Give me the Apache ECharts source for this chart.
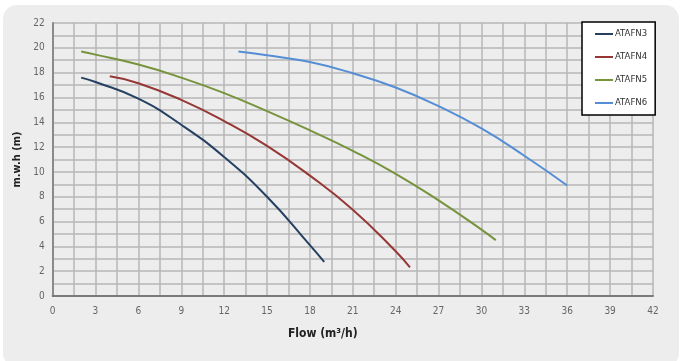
<!DOCTYPE html>
<html>
<head>
<meta charset="utf-8">
<script src="https://cdn.jsdelivr.net/npm/echarts@6/dist/echarts.min.js"></script>
<style>
html,body{margin:0;padding:0;background:#ffffff;}
#bg{position:absolute;left:3px;top:5px;width:676px;height:362px;border-radius:14px;background:#ededed;}
#chart{position:absolute;left:0;top:0;width:681px;height:361px;}
</style>
</head>
<body>
<div id="bg"></div>
<div id="chart"></div>
<script>
const seriesNames = ['ATAFN3', 'ATAFN4', 'ATAFN5', 'ATAFN6'];
const atafn3 = [[2,17.6],[3,17.25],[6,15.9],[9,13.8],[12,11.2],[15,8.0],[18,4.1],[19,2.75]];
const atafn4 = [[4,17.7],[6,17.15],[9,15.8],[12,14.1],[15,12.1],[18,9.7],[21,6.95],[24,3.6],[25,2.3]];
const atafn5 = [[2,19.7],[3,19.45],[6,18.65],[9,17.6],[12,16.35],[15,14.9],[18,13.35],[21,11.7],[24,9.85],[27,7.7],[30,5.35],[31,4.5]];
const atafn6 = [[13,19.7],[15,19.4],[18,18.85],[21,17.95],[24,16.8],[27,15.3],[30,13.5],[33,11.3],[36,8.9]];
const seriesData = [atafn3, atafn4, atafn5, atafn6];
const colors = ['#254061', '#953735', '#77933c', '#558ed5'];

const chart = echarts.init(document.getElementById('chart'));
const fontFam = "'DejaVu Sans Condensed', 'Roboto', sans-serif";
chart.setOption({
  animation: false,
  textStyle: { fontFamily: fontFam },
  grid: { left: 52.6, right: 28, top: 23, bottom: 65, containLabel: false },
  legend: {
    orient: 'vertical',
    left: 582, top: 22,
    padding: [6, 8, 6, 13],
    itemGap: 11,
    icon: 'rect',
    itemWidth: 18, itemHeight: 2,
    backgroundColor: '#ffffff',
    borderColor: '#000000', borderWidth: 1.5,
    textStyle: { fontSize: 9.5, lineHeight: 12, color: '#333333', fontFamily: fontFam, padding: [0,0,0,-3] },
    data: seriesNames
  },
  xAxis: {
    type: 'value', min: 0, max: 42, interval: 3,
    name: 'Flow (m³/h)', nameLocation: 'middle', nameGap: 32,
    nameTextStyle: { fontSize: 12, color: '#222222', fontWeight: 'bold', fontFamily: fontFam, padding: [0, 60, 0, 0] },
    axisLine: { show: true, lineStyle: { color: '#7a7a7a', width: 2 } },
    axisTick: { show: false },
    axisLabel: { fontSize: 10, color: '#666666', margin: 10 },
    splitLine: { show: true, lineStyle: { color: '#b6b6b6', width: 1.5 } },
    minorTick: { show: false, splitNumber: 2 },
    minorSplitLine: { show: true, lineStyle: { color: '#b6b6b6', width: 1.5 } }
  },
  yAxis: {
    type: 'value', min: 0, max: 22, interval: 2,
    name: 'm.w.h (m)', nameLocation: 'middle', nameGap: 25,
    nameTextStyle: { fontSize: 11, color: '#222222', fontWeight: 'bold', fontFamily: fontFam },
    axisLine: { show: true, lineStyle: { color: '#8a8a8a', width: 2 } },
    axisTick: { show: false },
    axisLabel: { fontSize: 10, color: '#666666', margin: 8 },
    splitLine: { show: true, lineStyle: { color: '#b6b6b6', width: 1.5 } },
    minorTick: { show: false, splitNumber: 2 },
    minorSplitLine: { show: true, lineStyle: { color: '#b6b6b6', width: 1.5 } }
  },
  series: seriesNames.map((n, i) => ({
    name: n, type: 'line', smooth: 0.5, symbol: 'none',
    data: seriesData[i],
    lineStyle: { color: colors[i], width: 2 },
    itemStyle: { color: colors[i] }
  }))
});
</script>
</body>
</html>
